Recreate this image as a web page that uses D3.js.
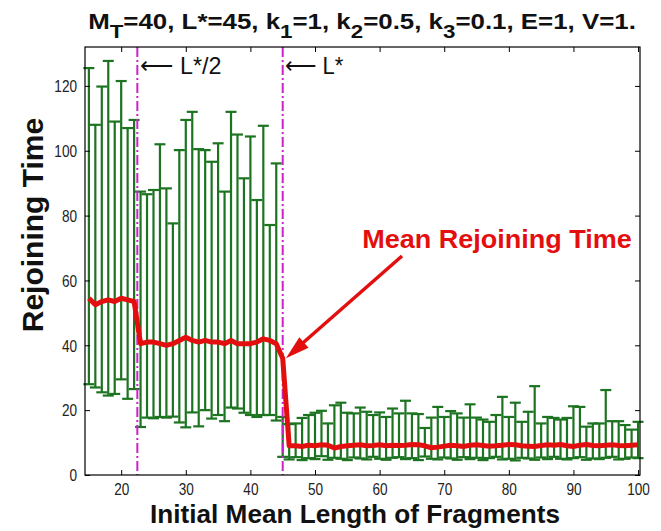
<!DOCTYPE html>
<html>
<head>
<meta charset="utf-8">
<script src="https://cdn.jsdelivr.net/npm/d3@7.9.0/dist/d3.min.js"></script>
<style>
  body { margin: 0; background: #fff; }
  svg text { font-family: "Liberation Sans", Arial, sans-serif; }
</style>
</head>
<body>
<svg id="chart" width="661" height="531"></svg>
<script>
// ---------------------------------------------------------------
// Data
// ---------------------------------------------------------------
const lengths = [15, 16, 17, 18, 19, 20, 21, 22, 23, 24, 25, 26, 27, 28, 29, 30,
  31, 32, 33, 34, 35, 36, 37, 38, 39, 40, 41, 42, 43, 44, 45, 46, 47, 48, 49, 50,
  51, 52, 53, 54, 55, 56, 57, 58, 59, 60, 61, 62, 63, 64, 65, 66, 67, 68, 69, 70,
  71, 72, 73, 74, 75, 76, 77, 78, 79, 80, 81, 82, 83, 84, 85, 86, 87, 88, 89, 90,
  91, 92, 93, 94, 95, 96, 97, 98, 99, 100];

const meanTime = [
  54.5, 52.5, 53.5, 54, 53.5, 54.5, 54, 53.5,
  40.5, 41, 41, 40.5, 40, 40.5, 41.5, 42.5, 41.5, 41, 41.5, 41, 41, 40.5, 41.5,
  40.5, 40.5, 40.5, 41, 42, 41.5, 40.5,
  36,
  9, 9, 8.8, 9.2, 9, 9.3, 9.2, 8.3, 8.8, 9, 9.2, 9.3, 9, 9.1, 9.3, 9, 9.2, 9.1,
  9.2, 9.4, 9.3, 9, 8.4, 8.6, 8.9, 9.2, 9, 8.8, 9.2, 9.3, 9.1, 8.9, 9, 9.2, 9.4,
  9.3, 9, 8.9, 8.8, 9.1, 9.3, 9.2, 9.4, 9, 8.8, 9.2, 9.4, 9.1, 9, 9.2, 9.3, 9.1,
  9, 9.2, 9.3
];

const upperTime = [
  125.5, 108, 119.8, 127.7, 109, 121.5, 107, 109.5,
  87.4, 86.6, 87.9, 102, 88.4, 77.6, 100.2, 109.5, 112, 100.5, 100.2, 96.6, 102.3,
  87.4, 112, 105, 91.5, 104.4, 84.8, 107.7, 77.1, 96.1,
  17.9,
  15.7, 15.9, 17.6, 18.5, 19.2, 19.8, 15.9, 21.5, 22.3, 19.2, 19, 20.8, 19.5, 18.5,
  19.3, 17.9, 20.5, 19, 22.9, 19, 18.8, 14.5, 17.7, 21, 17.9, 19.7, 19, 17.7, 21.8,
  17.7, 17.1, 16.4, 18.5, 24.1, 17.9, 22.3, 16.4, 19.5, 27.4, 15.9, 17.9, 17.6,
  17.1, 17.6, 21.2, 21, 14.9, 15.9, 15.9, 26.2, 16.6, 16.6, 15.4, 14, 16.4
];

const lowerTime = [
  28, 27, 25.5, 24.5, 25, 29.5, 23.5, 26.5,
  14.8, 17.7, 17.5, 17.9, 17.7, 18, 16.2, 14.7, 19.3, 15, 20, 17.4, 18.5, 16.6,
  20.8, 20.5, 19.2, 18.5, 17.9, 18.5, 18.5, 16.8,
  5.6,
  4.8, 5.5, 4.6, 5.2, 4.9, 5.8, 4.7, 5.3, 5, 4.6, 5.4, 5.1, 4.8, 5.6, 5, 4.7, 5.3,
  5.5, 4.9, 5.2, 4.6, 5.7, 5, 4.8, 5.4, 5.1, 4.7, 5.5, 4.9, 5.3, 4.6, 5.2, 5.6,
  4.8, 5, 4.5, 5.3, 5.1, 4.7, 5.4, 4.9, 5.6, 5, 4.8, 5.2, 5.5, 4.7, 5.1, 4.9, 5.3,
  5.6, 4.8, 5, 5.4, 5.2
];

const xTicks = [20, 30, 40, 50, 60, 70, 80, 90, 100];
const yTicks = [0, 20, 40, 60, 80, 100, 120];
const markerLines = [22.5, 45];

const rows = lengths.map((l, i) => ({
  l, mean: meanTime[i], lo: lowerTime[i], hi: upperTime[i]
}));

// ---------------------------------------------------------------
// Layout
// ---------------------------------------------------------------
const plot = { left: 85, right: 640, top: 47, bottom: 475 };

const svg = d3.select('#chart');

const x = d3.scaleLinear().domain([14.4, 100.3]).range([plot.left, plot.right]);
const y = d3.scaleLinear().domain([0, 132]).range([plot.bottom, plot.top]);

const green = '#1c7421';
const red = '#e30f0f';
const magenta = '#cc22cc';

// stretch / squeeze a text horizontally so it spans `width` px
function fitWidth(sel, width) {
  const node = sel.node();
  const w = node.getBBox().width;
  const ax = +sel.attr('x') || 0;
  const f = width / w;
  sel.attr('transform', `translate(${ax},0) scale(${f},1) translate(${-ax},0)`);
}

// ---------------------------------------------------------------
// Error bars
// ---------------------------------------------------------------
const tee = 0.85;
const bars = svg.append('g')
  .attr('stroke', green)
  .attr('stroke-width', 2.2)
  .attr('fill', 'none');

bars.selectAll('line.stem')
  .data(rows)
  .join('line')
  .attr('class', 'stem')
  .attr('x1', (d) => x(d.l))
  .attr('x2', (d) => x(d.l))
  .attr('y1', (d) => y(d.lo))
  .attr('y2', (d) => y(d.hi));

bars.selectAll('line.capHi')
  .data(rows)
  .join('line')
  .attr('class', 'capHi')
  .attr('x1', (d) => x(d.l - tee))
  .attr('x2', (d) => x(d.l + tee))
  .attr('y1', (d) => y(d.hi))
  .attr('y2', (d) => y(d.hi));

bars.selectAll('line.capLo')
  .data(rows)
  .join('line')
  .attr('class', 'capLo')
  .attr('x1', (d) => x(d.l - tee))
  .attr('x2', (d) => x(d.l + tee))
  .attr('y1', (d) => y(d.lo))
  .attr('y2', (d) => y(d.lo));

// ---------------------------------------------------------------
// L*/2 and L* markers
// ---------------------------------------------------------------
svg.append('g')
  .selectAll('line')
  .data(markerLines)
  .join('line')
  .attr('x1', (d) => x(d))
  .attr('x2', (d) => x(d))
  .attr('y1', plot.top)
  .attr('y2', plot.bottom)
  .attr('stroke', magenta)
  .attr('stroke-width', 2)
  .attr('stroke-dasharray', '10,3,2,3');

// ---------------------------------------------------------------
// Mean line
// ---------------------------------------------------------------
const meanLine = d3.line()
  .x((d) => x(d.l))
  .y((d) => y(d.mean));

svg.append('path')
  .datum(rows)
  .attr('d', meanLine)
  .attr('fill', 'none')
  .attr('stroke', red)
  .attr('stroke-width', 5)
  .attr('stroke-linejoin', 'round');

// ---------------------------------------------------------------
// Axes box + ticks (inward, MATLAB style)
// ---------------------------------------------------------------
svg.append('rect')
  .attr('x', plot.left)
  .attr('y', plot.top)
  .attr('width', plot.right - plot.left)
  .attr('height', plot.bottom - plot.top)
  .attr('fill', 'none')
  .attr('stroke', '#000')
  .attr('stroke-width', 1.2);

const gx = svg.append('g')
  .attr('transform', `translate(0,${plot.bottom})`)
  .call(d3.axisBottom(x).tickValues(xTicks).tickSizeInner(-5).tickSizeOuter(0).tickPadding(9));
const gxTop = svg.append('g')
  .attr('transform', `translate(0,${plot.top})`)
  .call(d3.axisTop(x).tickValues(xTicks).tickSizeInner(-5).tickSizeOuter(0).tickFormat(''));
const gy = svg.append('g')
  .attr('transform', `translate(${plot.left},0)`)
  .call(d3.axisLeft(y).tickValues(yTicks).tickSizeInner(-5).tickSizeOuter(0).tickPadding(8));
const gyRight = svg.append('g')
  .attr('transform', `translate(${plot.right},0)`)
  .call(d3.axisRight(y).tickValues(yTicks).tickSizeInner(-5).tickSizeOuter(0).tickFormat(''));

[gx, gxTop, gy, gyRight].forEach((g) => {
  g.select('.domain').remove();
  g.selectAll('.tick line').attr('stroke', '#000').attr('stroke-width', 1);
});

gx.selectAll('text')
  .attr('font-size', 16)
  .attr('fill', '#222')
  .attr('font-family', '"Liberation Sans", Arial, sans-serif')
  .attr('transform', 'scale(0.85,1)');

gy.selectAll('text')
  .attr('font-size', 16)
  .attr('fill', '#222')
  .attr('font-family', '"Liberation Sans", Arial, sans-serif')
  .attr('dy', '0.36em')
  .attr('transform', 'translate(-8,0) scale(0.85,1) translate(8,0)');

// ---------------------------------------------------------------
// Labels
// ---------------------------------------------------------------
const title = svg.append('text')
  .attr('x', 362)
  .attr('y', 29)
  .attr('text-anchor', 'middle')
  .attr('font-size', 22)
  .attr('font-weight', 'bold')
  .attr('fill', '#111');

const titleParts = [
  ['M', 0], ['T', 1], ['=40, L*=45, k', 0], ['1', 1], ['=1, k', 0], ['2', 1],
  ['=0.5, k', 0], ['3', 1], ['=0.1, E=1, V=1.', 0]
];
let prevSub = 0;
titleParts.forEach(([txt, sub]) => {
  title.append('tspan')
    .attr('dy', sub === prevSub ? 0 : (sub ? 9 : -9))
    .attr('font-size', sub ? 19 : 22)
    .text(txt);
  prevSub = sub;
});
fitWidth(title, 548);

const xLabel = svg.append('text')
  .attr('x', 355)
  .attr('y', 523)
  .attr('text-anchor', 'middle')
  .attr('font-size', 26)
  .attr('font-weight', 'bold')
  .attr('fill', '#111')
  .text('Initial Mean Length of Fragments');
fitWidth(xLabel, 410);

svg.append('text')
  .attr('transform', 'translate(43,225) rotate(-90)')
  .attr('text-anchor', 'middle')
  .attr('font-size', 30)
  .attr('font-weight', 'bold')
  .attr('fill', '#111')
  .text('Rejoining Time');

// marker annotations (long thin arrow + label)
const half = svg.append('text')
  .attr('x', 140)
  .attr('y', 74)
  .attr('font-size', 24)
  .attr('fill', '#111')
  .text('\u27F5 L*/2');
fitWidth(half, 81);

const full = svg.append('text')
  .attr('x', 285)
  .attr('y', 74)
  .attr('font-size', 24)
  .attr('fill', '#111')
  .text('\u27F5 L*');
fitWidth(full, 58);

// Mean Rejoining Time callout
const meanLabel = svg.append('text')
  .attr('x', 497)
  .attr('y', 248)
  .attr('text-anchor', 'middle')
  .attr('font-size', 25)
  .attr('font-weight', 'bold')
  .attr('fill', red)
  .text('Mean Rejoining Time');
fitWidth(meanLabel, 270);

const tip = { x: x(45.5), y: y(36) };
const tail = { x: 402, y: 256 };
svg.append('line')
  .attr('x1', tail.x)
  .attr('y1', tail.y)
  .attr('x2', tip.x + 12)
  .attr('y2', tip.y - 11)
  .attr('stroke', red)
  .attr('stroke-width', 3.5);

const ang = Math.atan2(tip.y - tail.y, tip.x - tail.x);
const headLen = 24, headW = 7;
const bx = tip.x - headLen * Math.cos(ang), by = tip.y - headLen * Math.sin(ang);
svg.append('path')
  .attr('d', `M${tip.x},${tip.y}L${bx + headW * Math.sin(ang)},${by - headW * Math.cos(ang)}L${bx - headW * Math.sin(ang)},${by + headW * Math.cos(ang)}Z`)
  .attr('fill', red);
</script>
</body>
</html>
